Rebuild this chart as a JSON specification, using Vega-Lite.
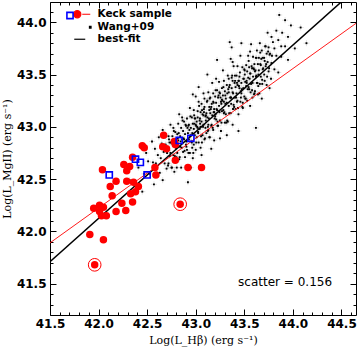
{
"$schema":"https://vega.github.io/schema/vega-lite/v6.json",
"width":306,"height":313,
"autosize":{"type":"none"},
"padding":{"left":50,"top":2,"right":1,"bottom":39},
"background":"white",
"config":{"view":{"stroke":"black","strokeWidth":1},"axis":{"grid":false,"domain":false,"tickColor":"black","tickWidth":1}},
"datasets":{
"wang":[
{"x":42.32,"y":42.49},{"x":42.38,"y":42.39},{"x":42.41,"y":42.61},{"x":42.45,"y":42.38},{"x":42.47,"y":42.55},{"x":42.49,"y":42.75},
{"x":42.51,"y":42.67},{"x":42.53,"y":42.55},{"x":42.55,"y":42.86},{"x":42.56,"y":42.66},{"x":42.57,"y":42.45},{"x":42.58,"y":42.79},{"x":42.59,"y":42.65},{"x":42.60,"y":42.56},
{"x":42.61,"y":42.73},{"x":42.62,"y":42.90},{"x":42.63,"y":42.56},{"x":42.64,"y":42.70},{"x":42.65,"y":42.84},{"x":42.66,"y":42.49},{"x":42.66,"y":42.97},{"x":42.67,"y":42.76},{"x":42.68,"y":42.65},{"x":42.69,"y":42.91},{"x":42.69,"y":42.83},{"x":42.70,"y":42.60},
{"x":42.71,"y":42.77},{"x":42.72,"y":42.91},{"x":42.72,"y":42.65},{"x":42.73,"y":42.85},{"x":42.74,"y":43.02},{"x":42.74,"y":42.75},{"x":42.75,"y":42.61},{"x":42.76,"y":42.91},{"x":42.76,"y":42.84},{"x":42.77,"y":42.73},{"x":42.77,"y":42.99},{"x":42.78,"y":42.87},{"x":42.78,"y":42.57},{"x":42.79,"y":42.82},{"x":42.79,"y":42.95},{"x":42.80,"y":42.71},
{"x":42.81,"y":42.93},{"x":42.81,"y":42.75},{"x":42.82,"y":43.03},{"x":42.82,"y":42.87},{"x":42.83,"y":42.69},{"x":42.83,"y":43.12},{"x":42.84,"y":42.91},{"x":42.84,"y":42.81},{"x":42.85,"y":42.99},{"x":42.85,"y":42.61},{"x":42.86,"y":42.88},{"x":42.86,"y":43.09},{"x":42.87,"y":42.76},{"x":42.87,"y":42.96},{"x":42.88,"y":42.88},{"x":42.88,"y":43.05},{"x":42.89,"y":42.71},{"x":42.89,"y":42.93},{"x":42.90,"y":42.83},{"x":42.90,"y":43.01},
{"x":42.91,"y":43.08},{"x":42.91,"y":42.78},{"x":42.92,"y":42.94},{"x":42.92,"y":42.47},{"x":42.93,"y":43.02},{"x":42.93,"y":42.88},{"x":42.94,"y":43.18},{"x":42.94,"y":42.75},{"x":42.95,"y":42.99},{"x":42.95,"y":42.92},{"x":42.96,"y":43.09},{"x":42.96,"y":42.85},{"x":42.97,"y":43.03},{"x":42.97,"y":42.70},{"x":42.98,"y":42.98},{"x":42.98,"y":43.16},{"x":42.98,"y":42.83},{"x":42.99,"y":43.08},{"x":42.99,"y":42.92},{"x":43.00,"y":43.02},{"x":43.00,"y":43.29},{"x":43.00,"y":42.78},{"x":42.95,"y":42.61},{"x":42.97,"y":43.31},
{"x":43.01,"y":43.05},{"x":43.01,"y":42.90},{"x":43.02,"y":43.15},{"x":43.02,"y":42.99},{"x":43.03,"y":42.85},{"x":43.03,"y":43.24},{"x":43.04,"y":43.06},{"x":43.04,"y":42.98},{"x":43.05,"y":43.14},{"x":43.05,"y":42.80},{"x":43.06,"y":43.05},{"x":43.06,"y":43.22},{"x":43.07,"y":42.92},{"x":43.07,"y":43.12},{"x":43.08,"y":43.32},{"x":43.08,"y":43.02},{"x":43.09,"y":42.88},{"x":43.09,"y":43.19},{"x":43.10,"y":43.10},{"x":43.10,"y":42.99},{"x":43.03,"y":43.38},{"x":43.06,"y":42.73},{"x":43.08,"y":43.11},{"x":43.05,"y":43.00},{"x":43.02,"y":43.09},{"x":43.09,"y":43.27},
{"x":43.11,"y":43.13},{"x":43.11,"y":42.94},{"x":43.12,"y":43.25},{"x":43.12,"y":43.09},{"x":43.13,"y":43.02},{"x":43.13,"y":43.33},{"x":43.14,"y":43.19},{"x":43.14,"y":42.90},{"x":43.15,"y":43.13},{"x":43.15,"y":43.28},{"x":43.16,"y":43.01},{"x":43.16,"y":43.19},{"x":43.17,"y":43.11},{"x":43.17,"y":43.42},{"x":43.18,"y":43.24},{"x":43.18,"y":42.97},{"x":43.19,"y":43.17},{"x":43.19,"y":42.87},{"x":43.20,"y":43.29},{"x":43.20,"y":43.10},{"x":43.12,"y":43.50},{"x":43.14,"y":43.16},{"x":43.16,"y":42.79},{"x":43.18,"y":43.32},{"x":43.13,"y":42.97},{"x":43.19,"y":43.14},
{"x":43.21,"y":43.23},{"x":43.21,"y":43.07},{"x":43.22,"y":43.35},{"x":43.22,"y":43.16},{"x":43.23,"y":43.01},{"x":43.23,"y":43.28},{"x":43.24,"y":43.43},{"x":43.24,"y":43.20},{"x":43.25,"y":43.06},{"x":43.25,"y":43.32},{"x":43.26,"y":43.24},{"x":43.26,"y":42.96},{"x":43.27,"y":43.37},{"x":43.27,"y":43.15},{"x":43.28,"y":43.30},{"x":43.28,"y":43.54},{"x":43.29,"y":43.13},{"x":43.29,"y":43.24},{"x":43.30,"y":43.34},{"x":43.30,"y":43.04},{"x":43.22,"y":43.64},{"x":43.25,"y":42.89},{"x":43.27,"y":43.26},{"x":43.24,"y":43.15},{"x":43.29,"y":43.44},{"x":43.21,"y":43.46},
{"x":43.31,"y":43.27},{"x":43.31,"y":43.12},{"x":43.32,"y":43.40},{"x":43.32,"y":43.23},{"x":43.33,"y":43.05},{"x":43.33,"y":43.49},{"x":43.34,"y":43.33},{"x":43.34,"y":43.20},{"x":43.35,"y":43.40},{"x":43.35,"y":43.81},{"x":43.36,"y":43.13},{"x":43.36,"y":43.28},{"x":43.37,"y":43.47},{"x":43.37,"y":43.37},{"x":43.38,"y":43.02},{"x":43.38,"y":43.33},{"x":43.39,"y":43.58},{"x":43.39,"y":43.21},{"x":43.40,"y":43.42},{"x":43.40,"y":43.28},{"x":43.32,"y":42.92},{"x":43.36,"y":43.65},{"x":43.38,"y":43.44},{"x":43.34,"y":43.46},{"x":43.37,"y":43.76},{"x":43.38,"y":43.62},
{"x":43.41,"y":43.38},{"x":43.41,"y":43.17},{"x":43.42,"y":43.49},{"x":43.42,"y":43.32},{"x":43.43,"y":43.25},{"x":43.43,"y":43.58},{"x":43.44,"y":43.44},{"x":43.44,"y":43.12},{"x":43.45,"y":43.37},{"x":43.45,"y":43.48},{"x":43.46,"y":43.24},{"x":43.46,"y":43.68},{"x":43.47,"y":43.42},{"x":43.47,"y":43.32},{"x":43.48,"y":43.57},{"x":43.48,"y":43.19},{"x":43.49,"y":43.46},{"x":43.49,"y":43.37},{"x":43.50,"y":43.29},{"x":43.50,"y":43.55},{"x":43.44,"y":42.96},{"x":43.47,"y":43.80},{"x":43.43,"y":43.40},
{"x":43.51,"y":43.43},{"x":43.51,"y":43.27},{"x":43.52,"y":43.59},{"x":43.52,"y":43.39},{"x":43.53,"y":43.25},{"x":43.53,"y":43.53},{"x":43.54,"y":43.68},{"x":43.54,"y":43.47},{"x":43.55,"y":43.36},{"x":43.55,"y":43.57},{"x":43.56,"y":43.20},{"x":43.56,"y":43.51},{"x":43.57,"y":43.79},{"x":43.57,"y":43.41},{"x":43.58,"y":43.56},{"x":43.58,"y":43.35},{"x":43.59,"y":43.48},{"x":43.59,"y":43.67},{"x":43.60,"y":43.31},{"x":43.60,"y":43.55},{"x":43.62,"y":42.99},{"x":43.56,"y":43.72},
{"x":43.61,"y":43.53},{"x":43.61,"y":43.34},{"x":43.62,"y":43.66},{"x":43.62,"y":43.48},{"x":43.63,"y":43.42},{"x":43.63,"y":43.73},{"x":43.64,"y":43.60},{"x":43.64,"y":43.31},{"x":43.65,"y":43.54},{"x":43.65,"y":43.66},{"x":43.66,"y":43.41},{"x":43.66,"y":43.80},{"x":43.67,"y":43.59},{"x":43.67,"y":43.48},{"x":43.68,"y":43.73},{"x":43.68,"y":43.27},{"x":43.69,"y":43.66},{"x":43.69,"y":43.55},
{"x":43.71,"y":43.63},{"x":43.71,"y":43.44},{"x":43.72,"y":43.77},{"x":43.72,"y":43.58},{"x":43.73,"y":43.40},{"x":43.73,"y":43.70},{"x":43.74,"y":43.62},{"x":43.74,"y":43.90},{"x":43.75,"y":43.53},{"x":43.75,"y":43.76},{"x":43.76,"y":43.69},{"x":43.76,"y":43.37},{"x":43.78,"y":43.61},{"x":43.78,"y":43.86},
{"x":43.81,"y":43.75},{"x":43.81,"y":43.55},{"x":43.83,"y":43.92},{"x":43.83,"y":43.68},{"x":43.85,"y":43.52},{"x":43.85,"y":43.83},{"x":43.86,"y":44.07},{"x":43.88,"y":43.77},{"x":43.88,"y":43.67},{"x":43.89,"y":43.90},
{"x":43.92,"y":43.77},{"x":43.92,"y":44.02},{"x":43.95,"y":43.64},{"x":43.95,"y":43.86},{"x":43.98,"y":43.97},{"x":44.02,"y":43.75},{"x":44.08,"y":43.95},{"x":44.14,"y":43.80},
{"x":42.705,"y":42.75},{"x":42.715,"y":42.63},{"x":42.725,"y":42.88},{"x":42.735,"y":42.72},{"x":42.745,"y":42.85},{"x":42.755,"y":42.61},{"x":42.765,"y":42.83},{"x":42.775,"y":42.96},{"x":42.785,"y":42.72},{"x":42.795,"y":42.80},
{"x":42.805,"y":42.61},{"x":42.815,"y":42.89},{"x":42.825,"y":42.94},{"x":42.835,"y":42.71},{"x":42.845,"y":42.86},{"x":42.855,"y":42.80},{"x":42.865,"y":43.06},{"x":42.875,"y":42.89},{"x":42.885,"y":42.77},{"x":42.895,"y":43.02},
{"x":42.905,"y":42.86},{"x":42.915,"y":42.99},{"x":42.925,"y":42.75},{"x":42.935,"y":42.97},{"x":42.945,"y":43.10},{"x":42.955,"y":42.86},{"x":42.965,"y":42.94},{"x":42.975,"y":42.75},{"x":42.985,"y":43.03},{"x":42.995,"y":43.08},
{"x":43.005,"y":42.85},{"x":43.015,"y":43.00},{"x":43.025,"y":42.94},{"x":43.035,"y":43.20},{"x":43.045,"y":43.03},{"x":43.055,"y":42.91},{"x":43.065,"y":43.16},{"x":43.075,"y":43.00},{"x":43.085,"y":43.14},{"x":43.095,"y":42.89},
{"x":43.105,"y":43.11},{"x":43.115,"y":43.24},{"x":43.125,"y":43.00},{"x":43.135,"y":43.08},{"x":43.145,"y":42.90},{"x":43.155,"y":43.17},{"x":43.165,"y":43.22},{"x":43.175,"y":42.99},{"x":43.185,"y":43.14},{"x":43.195,"y":43.08},
{"x":43.205,"y":43.35},{"x":43.215,"y":43.17},{"x":43.225,"y":43.05},{"x":43.235,"y":43.30},{"x":43.245,"y":43.14},{"x":43.255,"y":43.28},{"x":43.265,"y":43.04},{"x":43.275,"y":43.25},{"x":43.285,"y":43.38},{"x":43.295,"y":43.14},
{"x":43.305,"y":43.22},{"x":43.315,"y":43.04},{"x":43.325,"y":43.32},{"x":43.335,"y":43.36},{"x":43.345,"y":43.13},{"x":43.355,"y":43.28},{"x":43.365,"y":43.22},{"x":43.375,"y":43.49},{"x":43.385,"y":43.32},{"x":43.395,"y":43.19},
{"x":43.405,"y":43.44},{"x":43.415,"y":43.28},{"x":43.425,"y":43.42},{"x":43.435,"y":43.18},{"x":43.445,"y":43.39},{"x":43.455,"y":43.52},{"x":43.465,"y":43.28},{"x":43.475,"y":43.36},{"x":43.485,"y":43.18},{"x":43.495,"y":43.46},
{"x":43.505,"y":43.50},{"x":43.515,"y":43.27},{"x":43.525,"y":43.42},{"x":43.535,"y":43.36},{"x":43.545,"y":43.63},{"x":43.555,"y":43.46},{"x":43.565,"y":43.33},{"x":43.575,"y":43.58},{"x":43.585,"y":43.42},{"x":43.595,"y":43.56},
{"x":43.605,"y":43.32},{"x":43.615,"y":43.54},{"x":43.625,"y":43.66},{"x":43.635,"y":43.42},{"x":43.645,"y":43.50},{"x":43.655,"y":43.32},{"x":43.665,"y":43.60},{"x":43.675,"y":43.65},{"x":43.685,"y":43.41},{"x":43.695,"y":43.56},
{"x":43.705,"y":43.50},{"x":43.715,"y":43.77},{"x":43.725,"y":43.60},{"x":43.735,"y":43.48},{"x":43.745,"y":43.72},{"x":43.755,"y":43.56},{"x":43.765,"y":43.70},{"x":43.775,"y":43.46},{"x":43.785,"y":43.68},{"x":43.795,"y":43.81},
{"x":42.904,"y":42.81},{"x":42.924,"y":43.01},{"x":42.944,"y":42.91},{"x":42.964,"y":42.80},{"x":42.984,"y":43.11},{"x":43.004,"y":43.01},{"x":43.024,"y":42.95},{"x":43.044,"y":43.08},{"x":43.064,"y":42.85},{"x":43.084,"y":43.17},
{"x":43.104,"y":43.06},{"x":43.124,"y":42.96},{"x":43.144,"y":43.27},{"x":43.164,"y":43.02},{"x":43.184,"y":43.23},{"x":43.204,"y":43.12},{"x":43.224,"y":43.01},{"x":43.244,"y":43.33},{"x":43.264,"y":43.22},{"x":43.284,"y":43.16},
{"x":43.304,"y":43.30},{"x":43.324,"y":43.06},{"x":43.344,"y":43.38},{"x":43.364,"y":43.28},{"x":43.384,"y":43.17},{"x":43.404,"y":43.49},{"x":43.424,"y":43.24},{"x":43.444,"y":43.44},{"x":43.464,"y":43.34},{"x":43.484,"y":43.23},
{"x":43.504,"y":43.54},{"x":43.524,"y":43.44},{"x":43.544,"y":43.38},{"x":43.564,"y":43.51},{"x":43.584,"y":43.28},{"x":43.604,"y":43.60},{"x":43.624,"y":43.49},{"x":43.644,"y":43.39},{"x":43.664,"y":43.71},{"x":43.684,"y":43.45},{"x":43.704,"y":43.66}
],
"keck":[
{"x":42.67,"y":42.92,"kind":"dot"},{"x":42.45,"y":42.82,"kind":"dot"},{"x":42.47,"y":42.80,"kind":"dot"},{"x":42.66,"y":42.81,"kind":"dot"},{"x":42.70,"y":42.79,"kind":"dot"},{"x":42.78,"y":42.86,"kind":"dot"},{"x":42.79,"y":42.83,"kind":"dot"},{"x":42.35,"y":42.71,"kind":"dot"},{"x":42.26,"y":42.64,"kind":"dot"},{"x":42.32,"y":42.62,"kind":"dot"},{"x":42.04,"y":42.59,"kind":"dot"},{"x":42.29,"y":42.58,"kind":"dot"},{"x":42.79,"y":42.68,"kind":"dot"},{"x":42.58,"y":42.61,"kind":"dot"},{"x":42.92,"y":42.61,"kind":"dot"},{"x":43.06,"y":42.61,"kind":"dot"},{"x":42.59,"y":42.54,"kind":"dot"},{"x":42.18,"y":42.48,"kind":"dot"},{"x":42.29,"y":42.48,"kind":"dot"},{"x":42.36,"y":42.47,"kind":"dot"},{"x":42.12,"y":42.43,"kind":"dot"},{"x":42.41,"y":42.43,"kind":"dot"},{"x":42.14,"y":42.34,"kind":"dot"},{"x":42.33,"y":42.36,"kind":"dot"},{"x":42.38,"y":42.38,"kind":"dot"},{"x":42.24,"y":42.27,"kind":"dot"},{"x":42.35,"y":42.28,"kind":"dot"},{"x":41.95,"y":42.22,"kind":"dot"},{"x":42.01,"y":42.25,"kind":"dot"},{"x":42.05,"y":42.23,"kind":"dot"},{"x":42.01,"y":42.19,"kind":"dot"},{"x":42.03,"y":42.15,"kind":"dot"},{"x":42.08,"y":42.15,"kind":"dot"},{"x":42.18,"y":42.19,"kind":"dot"},{"x":42.28,"y":42.20,"kind":"dot"},{"x":41.91,"y":41.97,"kind":"dot"},{"x":42.05,"y":41.92,"kind":"dot"},{"x":41.96,"y":41.68,"kind":"dot","ring":true},{"x":42.84,"y":42.26,"kind":"dot","ring":true},
{"x":42.11,"y":42.54,"kind":"square"},{"x":42.38,"y":42.69,"kind":"square"},{"x":42.43,"y":42.66,"kind":"square"},{"x":42.50,"y":42.54,"kind":"square"},{"x":42.83,"y":42.87,"kind":"square"},{"x":42.95,"y":42.89,"kind":"square"}
],
"fits":[
{"fit":"best","x":41.5,"y":41.71},{"fit":"best","x":44.65,"y":44.32},
{"fit":"keck","x":41.5,"y":41.89},{"fit":"keck","x":44.65,"y":43.99}
]
},
"layer":[
{"data":{"name":"wang"},
 "mark":{"type":"point","shape":"M-1,0H1M0,-1V1","filled":false,"stroke":"#b0b0b0","strokeWidth":0.6,"opacity":0.6,"size":36},
 "encoding":{
  "x":{"field":"x","type":"quantitative","scale":{"domain":[41.5,44.65],"nice":false,"zero":false},
   "axis":{"orient":"bottom","values":[41.5,42,42.5,43,43.5,44,44.5],"format":".1f","offset":-6,"tickSize":6,"labelPadding":3,"labelFont":"DejaVu Sans","labelFontWeight":"bold","labelFontSize":12,"labelColor":"black","labelFlush":false,"labelOverlap":false,"title":"Log(L_Hβ) (erg s⁻¹)","titleFont":"DejaVu Serif","titleFontSize":11,"titleFontWeight":"normal","titleColor":"black","titlePadding":5}},
  "y":{"field":"y","type":"quantitative","scale":{"domain":[41.2,44.194],"nice":false,"zero":false},
   "axis":{"orient":"left","values":[41.5,42,42.5,43,43.5,44],"format":".1f","offset":-6,"tickSize":6,"labelPadding":4,"labelFont":"DejaVu Sans","labelFontWeight":"bold","labelFontSize":12,"labelColor":"black","labelFlush":false,"labelOverlap":false,"title":"Log(L_MgII) (erg s⁻¹)","titleFont":"DejaVu Serif","titleFontSize":11,"titleFontWeight":"normal","titleColor":"black","titlePadding":4}}
 }},
{"data":{"name":"wang"},
 "mark":{"type":"point","shape":"square","filled":true,"size":3.5,"opacity":1},
 "encoding":{
  "x":{"field":"x","type":"quantitative","axis":{"orient":"bottom","values":[41.6,41.7,41.8,41.9,42.1,42.2,42.3,42.4,42.6,42.7,42.8,42.9,43.1,43.2,43.3,43.4,43.6,43.7,43.8,43.9,44.1,44.2,44.3,44.4,44.6],"offset":-3,"tickSize":3,"labels":false,"title":null}},
  "y":{"field":"y","type":"quantitative","axis":{"orient":"left","values":[41.3,41.4,41.6,41.7,41.8,41.9,42.1,42.2,42.3,42.4,42.6,42.7,42.8,42.9,43.1,43.2,43.3,43.4,43.6,43.7,43.8,43.9,44.1],"offset":-3,"tickSize":3,"labels":false,"title":null}},
  "color":{"datum":"Wang+09","type":"nominal","scale":{"domain":["Keck sample","Wang+09","best-fit"],"range":["red","black","black"]},
   "legend":{"orient":"none","legendX":22,"legendY":7,"title":null,"padding":0,"symbolSize":64,"labelOffset":15,"labelFont":"DejaVu Sans","labelFontWeight":"bold","labelFontSize":10.5,"labelColor":"black","rowPadding":1,"symbolOpacity":1,
    "encoding":{"symbols":{
     "shape":{"value":{"expr":"datum.value==='Keck sample' ? 'M-0.9,0A0.9,0.9 0 1,0 0.9,0A0.9,0.9 0 1,0 -0.9,0ZM1.25,0L3.25,0' : datum.value==='Wang+09' ? 'M3.05,-0.2H3.45V0.2H3.05Z' : 'M-0.75,0L2,0'"}},
     "stroke":{"value":{"expr":"datum.value==='Keck sample' ? 'red' : 'black'"}},
     "fill":{"value":{"expr":"datum.value==='best-fit' ? 'transparent' : (datum.value==='Keck sample' ? 'red' : 'black')"}},
     "strokeWidth":{"value":1.2},
     "opacity":{"value":1}}}}}
 }},
{"data":{"name":"fits"},"transform":[{"filter":"datum.fit==='best'"}],
 "mark":{"type":"line","color":"black","strokeWidth":1.5,"clip":true},
 "encoding":{
  "x":{"field":"x","type":"quantitative","axis":{"orient":"top","values":[41.5,42,42.5,43,43.5,44,44.5],"offset":-6,"tickSize":6,"labels":false,"title":null}},
  "y":{"field":"y","type":"quantitative","axis":{"orient":"right","values":[41.5,42,42.5,43,43.5,44],"offset":-6,"tickSize":6,"labels":false,"title":null}}
 }},
{"data":{"name":"fits"},"transform":[{"filter":"datum.fit==='keck'"}],
 "mark":{"type":"line","color":"red","strokeWidth":0.9,"clip":true},
 "encoding":{
  "x":{"field":"x","type":"quantitative","axis":{"orient":"top","values":[41.6,41.7,41.8,41.9,42.1,42.2,42.3,42.4,42.6,42.7,42.8,42.9,43.1,43.2,43.3,43.4,43.6,43.7,43.8,43.9,44.1,44.2,44.3,44.4,44.6],"offset":-3,"tickSize":3,"labels":false,"title":null}},
  "y":{"field":"y","type":"quantitative","axis":{"orient":"right","values":[41.3,41.4,41.6,41.7,41.8,41.9,42.1,42.2,42.3,42.4,42.6,42.7,42.8,42.9,43.1,43.2,43.3,43.4,43.6,43.7,43.8,43.9,44.1],"offset":-3,"tickSize":3,"labels":false,"title":null}}
 }},
{"data":{"name":"keck"},"transform":[{"filter":"datum.kind==='dot'"}],
 "mark":{"type":"point","shape":"circle","filled":true,"color":"red","size":56,"opacity":1},
 "encoding":{"x":{"field":"x","type":"quantitative","axis":null},"y":{"field":"y","type":"quantitative","axis":null}}},
{"data":{"name":"keck"},"transform":[{"filter":"datum.ring===true"}],
 "mark":{"type":"point","shape":"circle","filled":false,"color":"red","strokeWidth":1,"size":160,"opacity":1},
 "encoding":{"x":{"field":"x","type":"quantitative","axis":null},"y":{"field":"y","type":"quantitative","axis":null}}},
{"data":{"name":"keck"},"transform":[{"filter":"datum.kind==='square'"}],
 "mark":{"type":"point","filled":false,"color":"blue","strokeWidth":1.6,"size":38,"opacity":1},
 "encoding":{"x":{"field":"x","type":"quantitative","axis":null},"y":{"field":"y","type":"quantitative","axis":null},
  "shape":{"datum":"sq","type":"nominal","scale":{"domain":["sq"],"range":["square"]},
   "legend":{"orient":"none","legendX":15,"legendY":8.5,"title":null,"padding":0,"symbolSize":38,"symbolStrokeWidth":1.6,"symbolStrokeColor":"blue","symbolFillColor":"transparent","labelExpr":"''","symbolOpacity":1}}}},
{"data":{"values":[{"label":"scatter =  0.156"}]},
 "mark":{"type":"text","font":"DejaVu Sans","fontSize":12,"align":"center","baseline":"middle","color":"black"},
 "encoding":{"x":{"datum":43.92,"type":"quantitative","axis":null},"y":{"datum":41.52,"type":"quantitative","axis":null},"text":{"field":"label"}}}
],
"resolve":{"axis":{"x":"independent","y":"independent"}}
}
